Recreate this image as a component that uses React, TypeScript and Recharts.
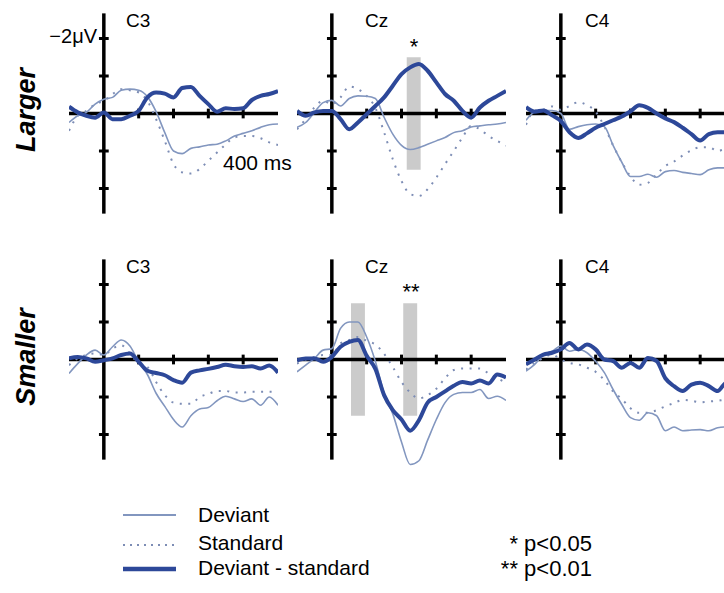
import React from "react";
import { LineChart, Line, XAxis, YAxis, ReferenceLine, ReferenceArea } from "recharts";

// time points in ms, shared by all panels
const times = [
  -100, -75, -50, -25, 0, 25, 50, 75, 100, 125, 150, 175, 200, 225, 250, 275, 300, 325, 350, 375, 400,
  425, 450, 475, 500,
];

// values in µV (negative plotted up)
const largerC3Deviant = [0.24, 0.06, -0.03, -0.25, -0.38, -0.43, -0.62, -0.65, -0.62, -0.45, -0.05, 0.51, 1.0, 1.07, 0.93, 0.89, 0.84, 0.82, 0.73, 0.6, 0.53, 0.46, 0.37, 0.3, 0.28];
const largerC3Standard = [0.46, 0.06, -0.07, -0.25, -0.34, -0.52, -0.65, -0.62, -0.56, -0.34, 0.15, 0.73, 1.35, 1.57, 1.6, 1.48, 1.26, 1.04, 0.82, 0.64, 0.6, 0.6, 0.66, 0.77, 0.84];
const largerC3Diff = [-0.18, -0.03, 0.06, 0.11, -0.03, 0.15, 0.15, 0.06, -0.07, -0.43, -0.56, -0.53, -0.43, -0.68, -0.71, -0.47, -0.25, -0.05, -0.14, -0.12, -0.14, -0.36, -0.47, -0.52, -0.6];

const largerCzDeviant = [0.37, 0.24, -0.03, -0.29, -0.35, -0.2, -0.4, -0.47, -0.46, -0.4, 0.1, 0.55, 0.85, 0.96, 0.91, 0.82, 0.73, 0.64, 0.51, 0.46, 0.36, 0.33, 0.3, 0.28, 0.24];
const largerCzStandard = [0.42, 0.15, -0.16, -0.34, -0.25, -0.43, -0.72, -0.65, -0.47, -0.15, 0.5, 1.22, 1.8, 2.15, 2.2, 2.02, 1.71, 1.35, 1.0, 0.64, 0.33, 0.42, 0.6, 0.73, 0.86];
const largerCzDiff = [-0.07, 0.06, -0.03, -0.07, -0.07, 0.15, 0.42, 0.24, 0.02, -0.2, -0.43, -0.74, -1.05, -1.23, -1.32, -1.14, -0.83, -0.52, -0.34, -0.07, 0.11, -0.16, -0.34, -0.47, -0.6];

const largerC4Deviant = [0.18, -0.04, -0.08, -0.08, 0.0, 0.42, 0.35, 0.3, 0.28, 0.35, 0.85, 1.3, 1.68, 1.68, 1.62, 1.7, 1.55, 1.52, 1.57, 1.6, 1.63, 1.5, 1.45, 1.45, 1.45];
const largerC4Standard = [0.3, -0.08, -0.1, -0.19, -0.1, -0.2, -0.3, -0.22, -0.05, 0.35, 0.85, 1.3, 1.68, 1.9, 1.85, 1.62, 1.4, 1.28, 1.12, 0.98, 0.9, 0.9, 1.0, 0.95, 0.95];
const largerC4Diff = [-0.17, -0.05, -0.08, 0.05, 0.2, 0.5, 0.65, 0.53, 0.38, 0.28, 0.18, 0.08, -0.06, -0.22, -0.15, 0.0, 0.13, 0.23, 0.38, 0.55, 0.72, 0.55, 0.5, 0.5, 0.52];

const smallerC3Deviant = [0.37, 0.11, -0.12, -0.25, -0.12, -0.34, -0.52, -0.36, 0.06, 0.4, 0.9, 1.25, 1.6, 1.8, 1.5, 1.32, 1.28, 1.1, 0.98, 1.05, 1.12, 1.05, 1.22, 1.0, 1.22];
const smallerC3Standard = [0.15, -0.03, -0.12, -0.16, -0.12, -0.29, -0.38, -0.16, 0.11, 0.2, 0.6, 0.95, 1.15, 1.18, 1.18, 1.0, 0.92, 0.84, 0.84, 0.88, 0.88, 0.86, 0.86, 0.86, 0.86];
const smallerC3Diff = [-0.03, -0.07, -0.03, 0.06, 0.02, -0.03, -0.12, -0.16, 0.06, 0.3, 0.36, 0.42, 0.55, 0.62, 0.35, 0.29, 0.25, 0.2, 0.14, 0.18, 0.2, 0.18, 0.24, 0.16, 0.35];

const smallerCzDeviant = [0.33, 0.15, -0.03, -0.25, -0.29, -0.83, -1.0, -1.0, -0.6, 0.05, 0.9, 1.45, 2.2, 2.8, 2.7, 2.15, 1.6, 1.15, 0.93, 0.88, 0.88, 0.8, 1.04, 0.98, 1.09];
const smallerCzStandard = [0.11, 0.0, -0.07, -0.12, -0.12, -0.43, -0.52, -0.6, -0.5, -0.4, -0.15, 0.2, 0.6, 0.88, 1.04, 0.95, 0.78, 0.5, 0.28, 0.24, 0.24, 0.24, 0.37, 0.5, 0.62];
const smallerCzDiff = [0.02, -0.03, -0.03, 0.06, -0.07, -0.34, -0.47, -0.52, -0.1, 0.25, 0.95, 1.35, 1.6, 1.9, 1.62, 1.15, 1.0, 0.85, 0.7, 0.6, 0.64, 0.56, 0.64, 0.4, 0.48];

const smallerC4Deviant = [0.31, 0.13, -0.13, -0.22, -0.36, -0.22, -0.27, -0.18, 0.05, 0.35, 0.8, 1.2, 1.55, 1.62, 1.42, 1.5, 1.9, 1.8, 1.9, 1.88, 1.87, 1.9, 1.82, 1.8, 1.8];
const smallerC4Standard = [0.27, 0.09, -0.04, -0.13, 0, 0.09, 0.13, 0.22, 0.33, 0.55, 0.85, 1.05, 1.3, 1.42, 1.42, 1.35, 1.25, 1.16, 1.08, 1.1, 1.14, 1.12, 1.1, 1.07, 1.07];
const smallerC4Diff = [0.13, 0, -0.13, -0.18, -0.27, -0.44, -0.27, -0.4, -0.27, 0, 0.04, 0.22, 0.09, 0.22, -0.04, 0.04, 0.5, 0.71, 0.84, 0.67, 0.62, 0.71, 0.84, 0.62, 0.62];

// significant windows (ms)
const largerCzWindows = [[215, 255]];
const smallerCzWindows = [[55, 95], [205, 245]];

const xTicks = [100, 200, 300, 400];
const yTicks = [-2, -1, 1, 2];

const DEV = "#8296bf";
const STD = "#7d8db5";
const DIFF = "#2d4899";
const FONT = "'Liberation Sans', Arial, sans-serif";

interface PanelProps {
  left: number;
  top: number;
  deviant: number[];
  standard: number[];
  diff: number[];
  windows?: number[][];
}

const ErpPanel: React.FC<PanelProps> = ({ left, top, deviant, standard, diff, windows = [] }) => {
  const data = times.map((t, i) => ({
    t,
    deviant: deviant[i],
    standard: standard[i],
    diff: diff[i],
  }));

  return (
    <div style={{ position: "absolute", left, top }}>
      <LineChart width={209} height={225} data={data} margin={{ top: 0, right: 0, left: 0, bottom: 0 }}>
        <XAxis dataKey="t" type="number" domain={[-100, 500]} hide />
        <YAxis type="number" domain={[-3, 3]} reversed hide />
        {windows.map(([a, b]) => (
          <ReferenceArea key={a} x1={a} x2={b} y1={-1.5} y2={1.5} fill="#cbcbcb" fillOpacity={1} stroke="none" />
        ))}
        <ReferenceLine segment={[{ x: -100, y: 0 }, { x: 500, y: 0 }]} stroke="#000" strokeWidth={3.5} />
        <ReferenceLine segment={[{ x: 0, y: -2.67 }, { x: 0, y: 2.67 }]} stroke="#000" strokeWidth={3.5} />
        {xTicks.map((t) => (
          <ReferenceLine key={"x" + t} segment={[{ x: t, y: -0.13 }, { x: t, y: 0.13 }]} stroke="#000" strokeWidth={3} />
        ))}
        {yTicks.map((v) => (
          <ReferenceLine key={"y" + v} segment={[{ x: -14, y: v }, { x: 14, y: v }]} stroke="#000" strokeWidth={3} />
        ))}
        <Line type="monotone" dataKey="standard" stroke={STD} strokeWidth={2} strokeDasharray="2 6.5" dot={false} isAnimationActive={false} />
        <Line type="monotone" dataKey="deviant" stroke={DEV} strokeWidth={1.6} dot={false} isAnimationActive={false} />
        <Line type="monotone" dataKey="diff" stroke={DIFF} strokeWidth={4} dot={false} isAnimationActive={false} />
      </LineChart>
    </div>
  );
};

const App: React.FC = () => {
  return (
    <div
      style={{
        position: "absolute",
        left: 0,
        top: 0,
        width: 724,
        height: 593,
        overflow: "hidden",
        background: "#fff",
        fontFamily: FONT,
      }}
    >
      <ErpPanel left={69} top={1} deviant={largerC3Deviant} standard={largerC3Standard} diff={largerC3Diff} />
      <ErpPanel left={297} top={1} deviant={largerCzDeviant} standard={largerCzStandard} diff={largerCzDiff} windows={largerCzWindows} />
      <ErpPanel left={526} top={1} deviant={largerC4Deviant} standard={largerC4Standard} diff={largerC4Diff} />
      <ErpPanel left={69} top={247} deviant={smallerC3Deviant} standard={smallerC3Standard} diff={smallerC3Diff} />
      <ErpPanel left={297} top={247} deviant={smallerCzDeviant} standard={smallerCzStandard} diff={smallerCzDiff} windows={smallerCzWindows} />
      <ErpPanel left={526} top={247} deviant={smallerC4Deviant} standard={smallerC4Standard} diff={smallerC4Diff} />

      <svg width={724} height={593} style={{ position: "absolute", left: 0, top: 0, pointerEvents: "none" }} fontFamily={FONT}>
        <text x={35} y={110} fontSize={27} fontWeight="bold" fontStyle="italic" textAnchor="middle" transform="rotate(-90 35 110)">
          Larger
        </text>
        <text x={35} y={357} fontSize={27} fontWeight="bold" fontStyle="italic" textAnchor="middle" transform="rotate(-90 35 357)">
          Smaller
        </text>

        <text x={126} y={27} fontSize={19}>C3</text>
        <text x={365} y={27} fontSize={19}>Cz</text>
        <text x={585} y={27} fontSize={19}>C4</text>
        <text x={126} y={273} fontSize={19}>C3</text>
        <text x={365} y={273} fontSize={19}>Cz</text>
        <text x={585} y={273} fontSize={19}>C4</text>

        <text x={97} y={43} fontSize={20} textAnchor="end">−2μV</text>
        <text x={223} y={170} fontSize={21}>400 ms</text>
        <text x={414} y={54} fontSize={22} textAnchor="middle">*</text>
        <text x={411} y={299} fontSize={22} textAnchor="middle">**</text>

        <line x1={123} y1={515} x2={176} y2={515} stroke={DEV} strokeWidth={2} />
        <line x1={123} y1={545} x2={176} y2={545} stroke={STD} strokeWidth={2} strokeDasharray="2 5" />
        <line x1={123} y1={569} x2={176} y2={569} stroke={DIFF} strokeWidth={4.5} />
        <text x={198} y={522} fontSize={21}>Deviant</text>
        <text x={198} y={550} fontSize={21}>Standard</text>
        <text x={198} y={575} fontSize={21}>Deviant - standard</text>
        <text x={592} y={551} fontSize={22} textAnchor="end">* p&lt;0.05</text>
        <text x={592} y={576} fontSize={22} textAnchor="end">** p&lt;0.01</text>
      </svg>
    </div>
  );
};

export default App;
